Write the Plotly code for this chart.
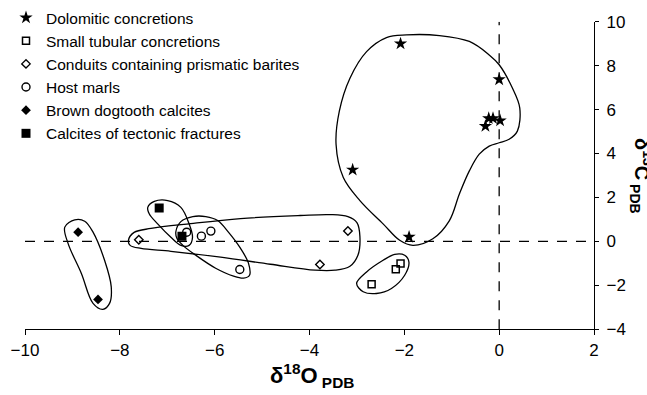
import plotly.graph_objects as go

W, H = 647, 395

# ---- data (δ18O, δ13C) ----
dolo_x = [-2.08, 0.0, -0.29, -0.22, -0.13, 0.02, -3.09, -1.90]
dolo_y = [9.0, 7.37, 5.25, 5.6, 5.6, 5.5, 3.26, 0.2]

tub_x = [-2.08, -2.18, -2.69]
tub_y = [-1.01, -1.27, -1.95]

cond_x = [-3.19, -3.78, -7.60]
cond_y = [0.47, -1.05, 0.08]

marl_x = [-6.59, -6.28, -6.08, -5.47]
marl_y = [0.42, 0.24, 0.47, -1.28]

dog_x = [-8.88, -8.46]
dog_y = [0.42, -2.64]

frac_x = [-7.17, -6.69]
frac_y = [1.52, 0.24]

# ---- hand-drawn group outlines (data coordinates) ----
out_dolo_x = [-3.44, -3.371, -3.147, -2.796, -2.377, -1.957, -1.259, -0.629, -0.210, 0.0, 0.279,
              0.434, 0.384, 0.210, 0.0, -0.210, -0.420, -0.629, -0.839, -1.049, -1.399, -1.819,
              -2.098, -2.448, -2.937, -3.287]
out_dolo_y = [4.42, 5.93, 7.43, 8.64, 9.28, 9.40, 9.37, 9.10, 8.49, 8.04, 6.98,
              6.08, 5.02, 4.65, 4.49, 4.34, 3.97, 3.21, 2.16, 0.95, 0.12, -0.18,
              0.05, 0.80, 1.86, 2.91]

out_tub_x = [-2.587, -2.272, -1.993, -1.903, -1.993, -2.203, -2.448, -2.796, -3.006, -2.868]
out_tub_y = [-2.37, -2.14, -1.54, -0.94, -0.63, -0.59, -0.86, -1.39, -1.91, -2.29]

out_cond_x = [-5.454, -4.196, -3.566, -3.189, -3.000, -2.937, -2.979, -3.147, -3.461, -3.881,
              -4.825, -5.874, -6.923, -7.552, -7.783, -7.818, -7.699, -7.342, -6.503]
out_cond_y = [1.04, 1.18, 1.22, 1.13, 0.86, 0.23, -0.63, -1.13, -1.31, -1.31,
              -1.04, -0.72, -0.45, -0.32, -0.18, 0.05, 0.41, 0.59, 0.81]

out_marl_x = [-6.461, -6.188, -5.937, -5.706, -5.454, -5.286, -5.265, -5.391, -5.601, -5.979,
              -6.398, -6.671, -6.797, -6.818, -6.713]
out_marl_y = [1.13, 1.13, 0.95, 0.41, -0.32, -1.00, -1.54, -1.67, -1.58, -1.22,
              -0.63, -0.18, 0.14, 0.45, 0.90]

out_frac_x = [-6.992, -6.713, -6.539, -6.467, -6.539, -6.713, -6.923, -7.202, -7.378, -7.411, -7.273]
out_frac_y = [1.86, 1.55, 0.80, 0.19, -0.18, -0.18, 0.19, 0.80, 1.25, 1.55, 1.82]

out_dog_x = [-8.565, -8.322, -8.181, -8.217, -8.356, -8.565, -8.811, -9.090, -9.161, -8.951, -8.741]
out_dog_y = [0.42, -0.86, -2.07, -2.82, -3.09, -2.82, -1.46, -0.10, 0.65, 0.98, 0.92]

REF_X = 0
REF_Y = 0
X_RANGE = [-10, 2]
Y_RANGE = [-4, 10]
X_TICKS = [-10, -8, -6, -4, -2, 0, 2]
Y_TICKS = [-4, -2, 0, 2, 4, 6, 8, 10]

FONT = "Arial, Liberation Sans, sans-serif"

# plot-area pixel box
PX_L, PX_R, PX_T, PX_B = 25, 594, 21.7, 329.3

fig = go.Figure()

def closed(xs, ys):
    return xs + xs[:1], ys + ys[:1]

for xs, ys in [(out_dolo_x, out_dolo_y), (out_tub_x, out_tub_y), (out_cond_x, out_cond_y),
               (out_marl_x, out_marl_y), (out_frac_x, out_frac_y), (out_dog_x, out_dog_y)]:
    cx, cy = closed(xs, ys)
    fig.add_trace(go.Scatter(x=cx, y=cy, mode="lines",
                             line=dict(color="black", width=1.3, shape="spline", smoothing=1.0),
                             showlegend=False, hoverinfo="skip"))

# reference dashed lines
fig.add_trace(go.Scatter(x=X_RANGE, y=[REF_Y, REF_Y], mode="lines",
                         line=dict(color="black", width=1.3, dash="10px,9px"),
                         showlegend=False, hoverinfo="skip"))
fig.add_trace(go.Scatter(x=[REF_X, REF_X], y=Y_RANGE, mode="lines",
                         line=dict(color="black", width=1.3, dash="10px,9px"),
                         showlegend=False, hoverinfo="skip"))

series = [
    ("Dolomitic concretions", dolo_x, dolo_y, dict(symbol="star", size=10, color="black", line=dict(width=0))),
    ("Small tubular concretions", tub_x, tub_y, dict(symbol="square-open", size=7, color="black", line=dict(width=1.5))),
    ("Conduits containing prismatic barites", cond_x, cond_y, dict(symbol="diamond-open", size=6.5, color="black", line=dict(width=1.4))),
    ("Host marls", marl_x, marl_y, dict(symbol="circle-open", size=8, color="black", line=dict(width=1.4))),
    ("Brown dogtooth calcites", dog_x, dog_y, dict(symbol="diamond", size=7.5, color="black", line=dict(width=0))),
    ("Calcites of tectonic fractures", frac_x, frac_y, dict(symbol="square", size=9, color="black", line=dict(width=0))),
]
for name, xs, ys, mk in series:
    fig.add_trace(go.Scatter(x=xs, y=ys, mode="markers", name=name, marker=mk))

fig.update_layout(
    width=W, height=H,
    margin=dict(l=0, r=0, t=0, b=0, autoexpand=False),
    paper_bgcolor="white", plot_bgcolor="white",
    font=dict(family=FONT, color="black", size=16),
    showlegend=True,
    legend=dict(x=6 / W, y=1.0 - 1 / H, xanchor="left", yanchor="top",
                font=dict(size=15.5, family=FONT), bgcolor="rgba(0,0,0,0)", itemwidth=30),
    xaxis=dict(domain=[PX_L / W, PX_R / W], range=X_RANGE, tickvals=X_TICKS, showgrid=False, zeroline=False,
               showline=True, linecolor="black", linewidth=1.3, ticks="outside", ticklen=5, tickwidth=1.3,
               tickcolor="black", tickfont=dict(size=17, family=FONT)),
    yaxis=dict(domain=[1 - PX_B / H, 1 - PX_T / H], range=Y_RANGE, tickvals=Y_TICKS, side="right",
               showgrid=False, zeroline=False,
               showline=True, linecolor="black", linewidth=1.3, ticks="outside", ticklen=4, tickwidth=1.3,
               tickcolor="black", tickfont=dict(size=17, family=FONT), ticklabelstandoff=4),
    annotations=[
        dict(text="<b>δ<sup>18</sup>O<sub> PDB</sub></b>", xref="paper", yref="paper",
             x=312 / W, y=1 - 375 / H, showarrow=False, font=dict(size=22, family=FONT),
             xanchor="center", yanchor="middle"),
        dict(text="<b>δ<sup>13</sup>C<sub> PDB</sub></b>", xref="paper", yref="paper",
             x=641 / W, y=1 - 176 / H, showarrow=False, font=dict(size=20, family=FONT), textangle=90,
             xanchor="center", yanchor="middle"),
    ],
)

fig.write_html("out.html")
